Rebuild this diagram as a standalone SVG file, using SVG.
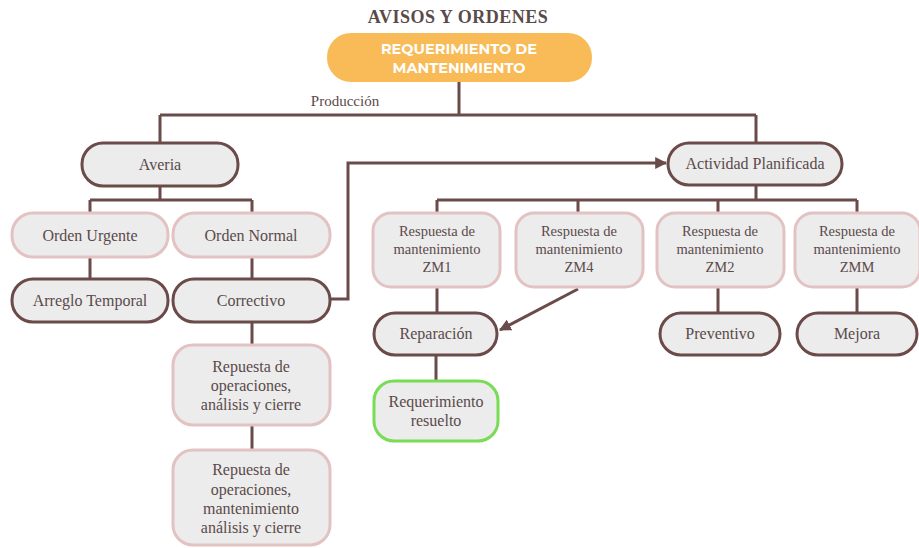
<svg xmlns="http://www.w3.org/2000/svg" width="919" height="548" viewBox="0 0 919 548">
<style>
.dark{fill:#ececec;stroke:#6b4a4a;stroke-width:3}
.pink{fill:#ececec;stroke:#e2c2c2;stroke-width:3}
.green{fill:#ececec;stroke:#78dc55;stroke-width:3}
.t{font-family:"Liberation Serif",serif;font-size:16px;fill:#5a4a4a;text-anchor:middle}
.s{font-family:"Liberation Serif",serif;font-size:14.5px;fill:#5a4a4a;text-anchor:middle}
.c{fill:none;stroke:#6b4a4a;stroke-width:3}
</style>
<defs>
<marker id="ah" viewBox="0 0 10 10" refX="9" refY="5" markerWidth="4" markerHeight="4" orient="auto" markerUnits="strokeWidth">
<path d="M0,0 L10,5 L0,10 z" fill="#6b4a4a"/>
</marker>
</defs>
<rect width="919" height="548" fill="#ffffff"/>
<text x="458" y="23" font-family="Liberation Serif,serif" font-weight="bold" font-size="18" letter-spacing="0.5" fill="#5a4a4a" text-anchor="middle">AVISOS Y ORDENES</text>
<text x="345" y="106" class="t" style="font-size:15px">Producción</text>
<g id="connectors">
<path class="c" d="M459,82 V115 M160,115 H756 M160,115 V143 M756,115 V143"/>
<path class="c" d="M160,186 V200 M90,200 H252 M90,200 V213 M252,200 V213"/>
<path class="c" d="M90,257 V279 M252,257 V279 M252,322 V345 M252,425 V450"/>
<path class="c" d="M330,299 H348 V163 H666" marker-end="url(#ah)"/>
<path class="c" d="M756,185 V200 M437,200 H857 M437,200 V213 M578,200 V213 M718,200 V213 M857,200 V213"/>
<path class="c" d="M437,287 V313 M718,287 V313 M857,287 V313 M436,355 V381"/>
<path class="c" d="M578,289 L500,330" marker-end="url(#ah)"/>
</g>
<g id="requerimiento">
<rect x="327" y="33" width="265" height="49" rx="24" fill="#f8bb57"/>
<text x="459" y="54" font-family="Montserrat,'Open Sans',sans-serif" font-weight="bold" font-size="14.5" fill="#ffffff" text-anchor="middle">REQUERIMIENTO DE</text>
<text x="459" y="73" font-family="Montserrat,'Open Sans',sans-serif" font-weight="bold" font-size="14.5" fill="#ffffff" text-anchor="middle">MANTENIMIENTO</text>
</g>
<g id="averia"><rect class="dark" x="82" y="143" width="156" height="43" rx="21"/><text class="t" x="160" y="170">Averia</text></g>
<g id="orden-urgente"><rect class="pink" x="12" y="213" width="156" height="44" rx="21"/><text class="t" x="90" y="241">Orden Urgente</text></g>
<g id="orden-normal"><rect class="pink" x="173" y="213" width="157" height="44" rx="21"/><text class="t" x="251" y="241">Orden Normal</text></g>
<g id="arreglo"><rect class="dark" x="12" y="279" width="156" height="43" rx="21"/><text class="t" x="90" y="306">Arreglo Temporal</text></g>
<g id="correctivo"><rect class="dark" x="173" y="279" width="157" height="43" rx="21"/><text class="t" x="251" y="306">Correctivo</text></g>
<g id="repuesta1"><rect class="pink" x="173" y="345" width="157" height="80" rx="20"/>
<text class="t" x="251" y="372">Repuesta de</text><text class="t" x="251" y="391">operaciones,</text><text class="t" x="251" y="410">análisis y cierre</text></g>
<g id="repuesta2"><rect class="pink" x="173" y="450" width="157" height="95" rx="20"/>
<text class="t" x="251" y="475">Repuesta de</text><text class="t" x="251" y="495">operaciones,</text><text class="t" x="251" y="514">mantenimiento</text><text class="t" x="251" y="533">análisis y cierre</text></g>
<g id="actividad"><rect class="dark" x="668" y="143" width="174" height="42" rx="21"/><text class="t" x="755" y="169">Actividad Planificada</text></g>
<g id="zm1"><rect class="pink" x="373" y="213" width="127" height="74" rx="18"/>
<text class="s" x="437" y="236">Respuesta de</text><text class="s" x="437" y="254">mantenimiento</text><text class="s" x="437" y="272">ZM1</text></g>
<g id="zm4"><rect class="pink" x="516" y="213" width="127" height="74" rx="18"/>
<text class="s" x="579" y="236">Respuesta de</text><text class="s" x="579" y="254">mantenimiento</text><text class="s" x="579" y="272">ZM4</text></g>
<g id="zm2"><rect class="pink" x="657" y="213" width="127" height="74" rx="18"/>
<text class="s" x="720" y="236">Respuesta de</text><text class="s" x="720" y="254">mantenimiento</text><text class="s" x="720" y="272">ZM2</text></g>
<g id="zmm"><rect class="pink" x="795" y="213" width="125" height="74" rx="18"/>
<text class="s" x="857" y="236">Respuesta de</text><text class="s" x="857" y="254">mantenimiento</text><text class="s" x="857" y="272">ZMM</text></g>
<g id="reparacion"><rect class="dark" x="374" y="313" width="123" height="42" rx="21"/><text class="t" x="436" y="339">Reparación</text></g>
<g id="preventivo"><rect class="dark" x="660" y="313" width="120" height="42" rx="21"/><text class="t" x="720" y="339">Preventivo</text></g>
<g id="mejora"><rect class="dark" x="797" y="313" width="120" height="42" rx="21"/><text class="t" x="857" y="339">Mejora</text></g>
<g id="resuelto"><rect class="green" x="374" y="381" width="124" height="60" rx="20"/>
<text class="t" x="436" y="407">Requerimiento</text><text class="t" x="436" y="426">resuelto</text></g>
</svg>
